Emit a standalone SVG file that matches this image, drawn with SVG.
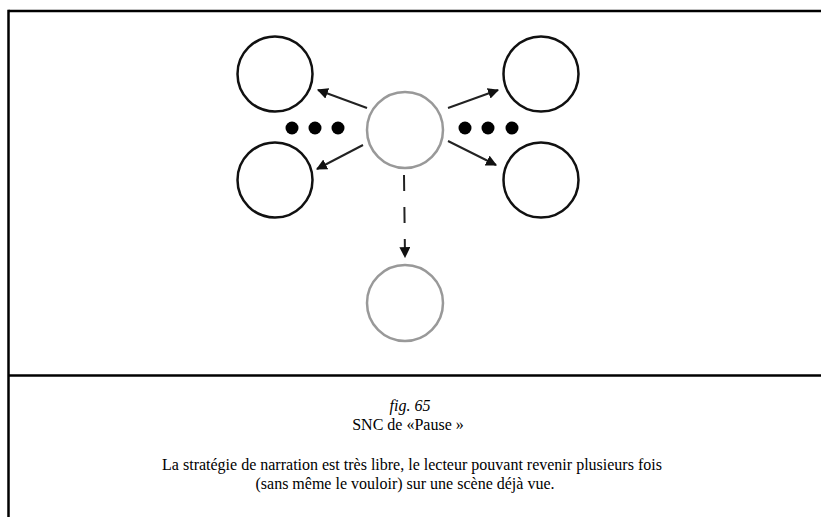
<svg xmlns="http://www.w3.org/2000/svg" width="821" height="517" viewBox="0 0 821 517">
<style>
.frame{stroke:#000;stroke-width:2.5;fill:none}
.blk{fill:none;stroke:#111;stroke-width:2.5}
.gry{fill:none;stroke:#999;stroke-width:2.5}
.con{stroke:#222;stroke-width:2;fill:none}
.dot{fill:#000}
.cap{font-family:"Liberation Serif","Times New Roman",Times,"DejaVu Serif",serif;font-size:16px;fill:#000;text-anchor:middle}
</style>
<defs>
<marker id="ah" viewBox="0 0 10 10" refX="9" refY="5" markerWidth="5.5" markerHeight="5.5" orient="auto" markerUnits="strokeWidth">
<path d="M0,0 L10,5 L0,10 z" fill="#111"/>
</marker>
</defs>
<rect width="821" height="517" fill="#fff"/>
<g id="frame">
<line class="frame" x1="8.5" y1="11" x2="821" y2="11"/>
<line class="frame" x1="8.5" y1="9.8" x2="8.5" y2="517"/>
<line class="frame" x1="8.5" y1="375.5" x2="821" y2="375.5"/>
</g>
<g id="center"><circle class="gry" cx="405" cy="130" r="38"/></g>
<g id="topleft"><circle class="blk" cx="275" cy="74" r="37.5"/></g>
<g id="bottomleft"><circle class="blk" cx="275" cy="180" r="37.5"/></g>
<g id="topright"><circle class="blk" cx="541" cy="74" r="37.5"/></g>
<g id="bottomright"><circle class="blk" cx="541" cy="180" r="37.5"/></g>
<g id="bottom"><circle class="gry" cx="405" cy="303" r="38"/></g>
<g id="dots-left">
<circle class="dot" cx="292" cy="128" r="6.5"/>
<circle class="dot" cx="315" cy="128" r="6.5"/>
<circle class="dot" cx="338" cy="128" r="6.5"/>
</g>
<g id="dots-right">
<circle class="dot" cx="465" cy="128" r="6.5"/>
<circle class="dot" cx="488" cy="128" r="6.5"/>
<circle class="dot" cx="512" cy="128" r="6.5"/>
</g>
<g id="connectors">
<line class="con" x1="367" y1="108" x2="318" y2="90" marker-end="url(#ah)"/>
<line class="con" x1="363" y1="145" x2="317" y2="169" marker-end="url(#ah)"/>
<line class="con" x1="448" y1="108" x2="498" y2="90" marker-end="url(#ah)"/>
<line class="con" x1="448" y1="141" x2="496" y2="165" marker-end="url(#ah)"/>
<line class="con" x1="404" y1="175" x2="405" y2="257" stroke-dasharray="16 16" marker-end="url(#ah)"/>
</g>
<g id="caption">
<text class="cap" x="410" y="411" font-style="italic">fig. 65</text>
<text class="cap" x="408" y="430">SNC de «Pause »</text>
<text class="cap" x="412" y="470">La stratégie de narration est très libre, le lecteur pouvant revenir plusieurs fois</text>
<text class="cap" x="405" y="489">(sans même le vouloir) sur une scène déjà vue.</text>
</g>
</svg>
